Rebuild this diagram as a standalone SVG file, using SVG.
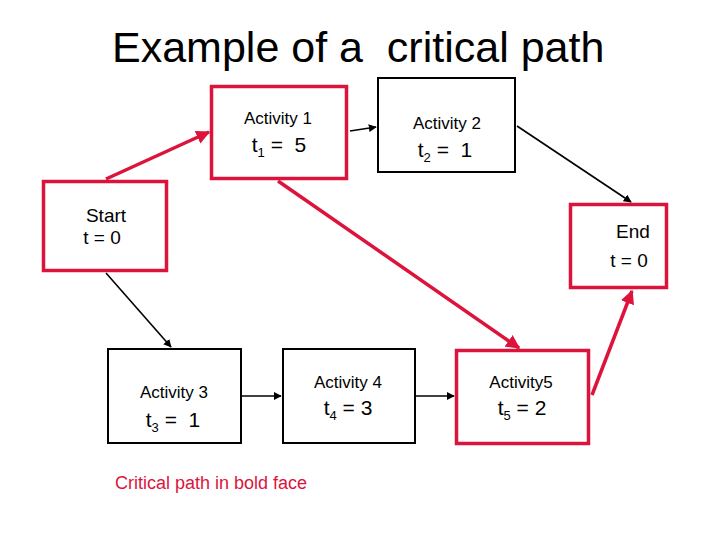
<svg xmlns="http://www.w3.org/2000/svg" width="720" height="540" viewBox="0 0 720 540">
<style>
text{font-family:"Liberation Sans",Arial,sans-serif;fill:#000;white-space:pre}
.red{fill:#fff;stroke:#DC143C;stroke-width:3.5}
.blk{fill:#fff;stroke:#000;stroke-width:2}
.lbl{font-size:17px;text-anchor:middle}
.val{font-size:21px;text-anchor:middle}
.se{font-size:19px;text-anchor:middle}
.sub{font-size:13px}
.cr{stroke:#DC143C;stroke-width:3.5;fill:none}
.cb{stroke:#000;stroke-width:1.6;fill:none}
</style>
<defs>
<marker id="ar" viewBox="0 0 10 10" refX="9" refY="5" markerWidth="4" markerHeight="4" orient="auto" markerUnits="strokeWidth">
<path d="M0,0 L10,5 L0,10 z" fill="#DC143C"/>
</marker>
<marker id="ab" viewBox="0 0 10 10" refX="9" refY="5" markerWidth="5" markerHeight="5" orient="auto" markerUnits="strokeWidth">
<path d="M0,0 L10,5 L0,10 z" fill="#000"/>
</marker>
</defs>
<rect width="720" height="540" fill="#fff"/>
<text x="112" y="62" font-size="43" xml:space="preserve">Example of a  critical path</text>
<g id="connectors">
<line class="cr" x1="106" y1="179" x2="209" y2="132" marker-end="url(#ar)"/>
<line class="cb" x1="350" y1="131" x2="376" y2="127" marker-end="url(#ab)"/>
<line class="cb" x1="517" y1="126" x2="631" y2="202" marker-end="url(#ab)"/>
<line class="cr" x1="278" y1="181" x2="519" y2="348" marker-end="url(#ar)"/>
<line class="cb" x1="106" y1="273" x2="171" y2="347" marker-end="url(#ab)"/>
<line class="cb" x1="241" y1="396" x2="281" y2="396" marker-end="url(#ab)"/>
<line class="cb" x1="415" y1="396" x2="454" y2="396" marker-end="url(#ab)"/>
<line class="cr" x1="592" y1="395" x2="632" y2="291" marker-end="url(#ar)"/>
</g>
<g id="activity1">
<rect class="red" x="211.5" y="86.5" width="135" height="92"/>
<text class="lbl" x="278" y="124">Activity 1</text>
<text class="val" x="279" y="152" xml:space="preserve">t<tspan class="sub" dy="5">1</tspan><tspan dy="-5"> =  5</tspan></text>
</g>
<g id="activity2">
<rect class="blk" x="378" y="78" width="137" height="94"/>
<text class="lbl" x="447" y="129">Activity 2</text>
<text class="val" x="445" y="157" xml:space="preserve">t<tspan class="sub" dy="5">2</tspan><tspan dy="-5"> =  1</tspan></text>
</g>
<g id="start">
<rect class="red" x="43.5" y="181.5" width="123" height="89"/>
<text class="se" x="106" y="222">Start</text>
<text class="se" x="102" y="244">t = 0</text>
</g>
<g id="end">
<rect class="red" x="570.5" y="204.5" width="96" height="83"/>
<text class="se" x="633" y="238">End</text>
<text class="se" x="629" y="267">t = 0</text>
</g>
<g id="activity3">
<rect class="blk" x="108" y="349" width="133" height="94"/>
<text class="lbl" x="174" y="398">Activity 3</text>
<text class="val" x="173" y="427" xml:space="preserve">t<tspan class="sub" dy="5">3</tspan><tspan dy="-5"> =  1</tspan></text>
</g>
<g id="activity4">
<rect class="blk" x="283" y="349" width="132" height="94"/>
<text class="lbl" x="348" y="388">Activity 4</text>
<text class="val" x="348" y="415">t<tspan class="sub" dy="5">4</tspan><tspan dy="-5"> = 3</tspan></text>
</g>
<g id="activity5">
<rect class="red" x="456.5" y="350.5" width="132" height="93"/>
<text class="lbl" x="521" y="388">Activity5</text>
<text class="val" x="522" y="415">t<tspan class="sub" dy="5">5</tspan><tspan dy="-5"> = 2</tspan></text>
</g>
<text x="115" y="489" font-size="18" style="fill:#DC143C">Critical path in bold face</text>
</svg>
